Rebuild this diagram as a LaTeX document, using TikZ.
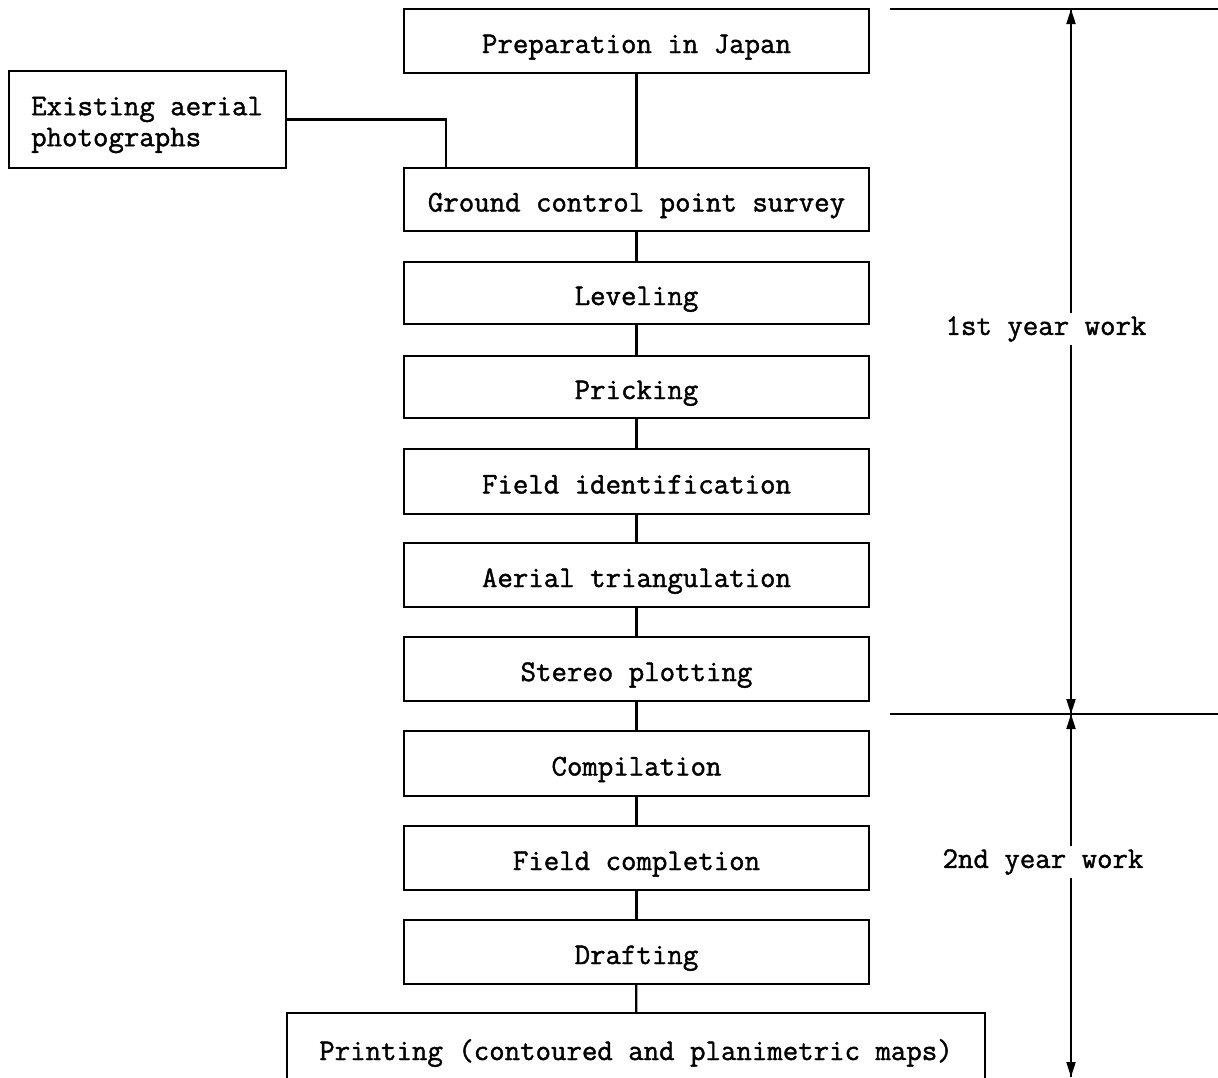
\documentclass[tikz,border=0pt]{standalone}
\usepackage{fontspec}
\newfontfamily\twfont[FakeBold=1.4]{Latin Modern Mono}
\usetikzlibrary{arrows.meta}
\begin{document}
\begin{tikzpicture}[x=1pt,y=-1pt,
  conn/.style={draw, line width=2.2pt},
  stepbox/.style={draw, line width=1.8pt, minimum width=465pt, minimum height=64pt, inner sep=0pt,
    text height=30pt, text depth=6pt,
    font=\fontsize{30}{36}\selectfont\twfont},
  lbl/.style={fill=white, inner sep=3pt, font=\fontsize{30}{36}\selectfont\twfont},
  dim/.style={line width=2pt, -{Triangle[length=15pt,width=9pt]}}]
\useasboundingbox (0,0) rectangle (1218,1077);
\fill[white] (0,0) rectangle (1218,1077);

\node[stepbox] (prep) at (636.5,41) {Preparation in Japan};
\node[stepbox, minimum height=63pt] (gcp) at (636.5,199.5) {Ground control point survey};
\node[stepbox, minimum height=62pt] (lev) at (636.5,293) {Leveling};
\node[stepbox, minimum height=62pt] (pri) at (636.5,387) {Pricking};
\node[stepbox, minimum height=65pt] (fid) at (636.5,481.5) {Field identification};
\node[stepbox] (atr) at (636.5,575) {Aerial triangulation};
\node[stepbox] (ste) at (636.5,669) {Stereo plotting};
\node[stepbox, minimum height=65pt] (com) at (636.5,763.5) {Compilation};
\node[stepbox] (fco) at (636.5,858) {Field completion};
\node[stepbox] (dra) at (636.5,952) {Drafting};
\node[stepbox, minimum width=698pt, minimum height=70pt] (prn) at (636,1048) {Printing (contoured and planimetric maps)};

\node[draw, line width=1.8pt, minimum width=277pt, minimum height=97pt, inner sep=0pt] (ex) at (147.5,119.5) {};
\node[anchor=west, align=left, inner sep=0pt, font=\fontsize{30}{31}\selectfont\twfont] (ext) at (31,125) {Existing aerial\\photographs};

\draw[conn] (prep) -- (gcp);
\draw[conn] (gcp) -- (lev);
\draw[conn] (lev) -- (pri);
\draw[conn] (pri) -- (fid);
\draw[conn] (fid) -- (atr);
\draw[conn] (atr) -- (ste);
\draw[conn] (ste) -- (com);
\draw[conn] (com) -- (fco);
\draw[conn] (fco) -- (dra);
\draw[conn] (dra) -- (prn);
\draw[conn] (ex.east) -| ([xshift=43pt]gcp.north west);

% year divisions
\coordinate (t0) at (890,9);
\coordinate (t1) at (1218,9);
\coordinate (m0) at (890,714);
\coordinate (m1) at (1218,714);
\coordinate (a0) at (1071,9);
\coordinate (a1) at (1071,714);
\coordinate (a2) at (1071,1077);
\draw[line width=1.6pt] (t0) -- (t1);
\draw[line width=1.6pt] (m0) -- (m1);
\draw[dim] (a1) -- (a0);
\draw[dim] (a0) -- (a1);
\draw[dim] (a2) -- (a1);
\draw[dim] (a1) -- (a2);
\node[lbl] (y1) at (1046,329) {1st year work};
\node[lbl] (y2) at (1043,862) {2nd year work};
\end{tikzpicture}
\end{document}
